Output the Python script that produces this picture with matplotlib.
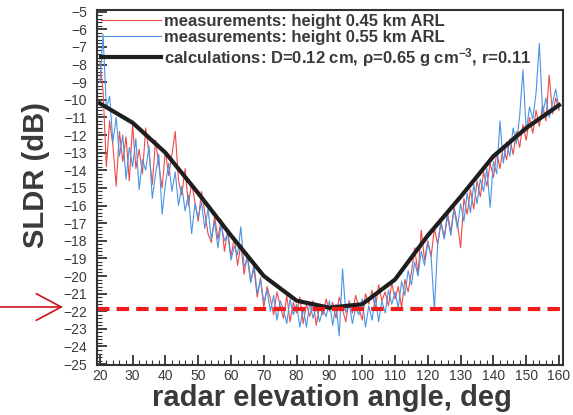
import matplotlib
matplotlib.use("Agg")
import matplotlib.pyplot as plt
from matplotlib.ticker import MultipleLocator

# elevation angles of the measurements, 1 deg step
angles = list(range(20, 161))

# SLDR measured at 0.45 km ARL (dB)
sldr_045 = [
    -7.8, -9.5, -13.8, -11.2, -12.6, -14.9, -11.8, -13.5, -12.1, -14.6,
    -11.4, -13.9, -12.8, -14.2, -11.6, -13.0, -14.8, -12.3, -13.7, -15.0,
    -12.9, -14.3, -13.1, -11.8, -14.6, -15.4, -13.9, -16.0, -14.7, -15.8,
    -16.9, -15.2, -16.4, -17.6, -18.1, -16.6, -17.9, -16.8, -18.6, -17.4,
    -18.9, -17.8, -19.4, -18.2, -19.9, -18.7, -20.3, -19.6, -21.2, -20.1,
    -21.8, -20.6, -21.3, -22.2, -20.9, -21.7, -22.4, -21.1, -22.6, -21.5,
    -22.1, -21.2, -22.7, -21.6, -22.3, -21.4, -22.8, -21.7, -22.2, -21.3,
    -22.0, -21.5, -22.4, -21.2, -21.9, -22.6, -21.4, -22.1, -21.1, -21.8,
    -22.5, -21.0, -21.6, -20.8, -21.9, -20.5, -21.4, -20.9, -21.7, -20.4,
    -21.3, -20.6, -21.8, -20.2, -20.9, -19.8, -18.4, -19.9, -17.4, -19.1,
    -18.0, -18.9, -17.3, -18.2, -16.9, -17.8, -16.4, -17.5, -16.1, -17.0,
    -18.4, -15.6, -16.5, -15.1, -16.2, -14.6, -15.5, -14.1, -14.9, -13.6,
    -14.4, -13.0, -13.9, -12.6, -13.4, -12.2, -13.1, -11.8, -12.7, -11.4,
    -12.3, -11.0, -11.9, -10.6, -11.5, -10.3, -11.2, -8.6, -10.8, -9.9,
    -10.6,
]

# SLDR measured at 0.55 km ARL (dB)
sldr_055 = [
    -9.0, -6.3, -10.5, -9.8, -12.4, -11.0, -13.2, -12.0, -14.5, -12.7,
    -13.8, -12.2, -15.1, -13.4, -14.0, -12.6, -15.6, -14.2, -13.1, -16.5,
    -14.8, -13.6, -15.2, -14.1, -16.0, -14.9, -16.3, -15.4, -17.6, -15.9,
    -16.7, -15.8, -17.3, -16.2, -17.9, -16.9, -18.4, -17.1, -18.0, -17.6,
    -19.1, -18.3, -18.8, -17.2, -19.5, -19.0, -20.4, -19.3, -21.0, -20.2,
    -21.5, -20.8, -22.0, -21.1, -22.5, -21.4, -21.9, -22.7, -21.3, -22.2,
    -21.6, -22.9, -21.8, -22.9, -21.5, -22.4, -21.7, -22.6, -21.9, -22.3,
    -21.4, -22.8, -21.6, -23.4, -19.6, -22.1, -21.5, -22.7, -21.8, -22.2,
    -21.3, -22.9, -21.7, -22.5, -21.2, -22.6, -21.4, -22.1, -20.8, -21.6,
    -20.9, -21.8, -20.3, -21.1, -19.7, -20.5, -19.2, -20.0, -18.6, -19.4,
    -18.1, -18.9, -21.9, -18.2, -17.0, -17.9, -16.6, -17.7, -16.2, -17.3,
    -15.9, -16.9, -15.3, -16.4, -14.8, -15.9, -14.5, -15.2, -13.9, -16.1,
    -13.5, -14.2, -11.2, -13.6, -12.4, -13.2, -11.6, -12.5, -10.9, -8.3,
    -11.8, -10.4, -11.1, -9.6, -6.8, -10.8, -9.9, -11.0, -10.2, -9.4,
    -10.5,
]

# model calculation
calc_angles = [20, 30, 40, 50, 60, 70, 80, 90, 100, 110, 120, 130, 140, 150, 160]
calc_sldr = [-10.2, -11.3, -13.0, -15.3, -17.7, -20.0, -21.4, -21.8, -21.6,
             -20.2, -17.7, -15.5, -13.2, -11.6, -10.3]

threshold = -21.85

text_col = "#3a3a3a"
plt.rcParams["font.family"] = ["Liberation Sans", "DejaVu Sans"]
plt.rcParams["mathtext.fontset"] = "custom"
plt.rcParams["mathtext.rm"] = "Liberation Sans"
plt.rcParams["mathtext.bf"] = "Liberation Sans:bold"
plt.rcParams["mathtext.default"] = "bf"

fig = plt.figure(figsize=(5.73, 4.15), dpi=100)
ax = fig.add_axes([0.169, 0.1205, 0.8135, 0.8555])

ax.plot(angles, sldr_045, color="#ec4a44", lw=0.8,
        label="measurements: height 0.45 km ARL")
ax.plot(angles, sldr_055, color="#4a94e4", lw=0.8,
        label="measurements: height 0.55 km ARL")
ax.plot(calc_angles, calc_sldr, color="#1e1e1e", lw=3,
        label="calculations: D=0.12 cm, \u03c1=0.65 g cm$^{-3}$, r=0.11")
ax.axhline(threshold, color="#ee1c1c", lw=3, dashes=(3.0, 1.7))

ax.set_xlim(19.1, 161.2)
ax.set_ylim(-25.05, -4.9)
ax.xaxis.set_major_locator(MultipleLocator(10))
ax.xaxis.set_minor_locator(MultipleLocator(2))
ax.yaxis.set_major_locator(MultipleLocator(1))
ax.yaxis.set_minor_locator(MultipleLocator(0.2))
ax.tick_params(which="both", direction="in", colors="#333333",
               labelcolor=text_col, labelsize=10, top=False, right=False)
ax.tick_params(which="major", length=7, width=1.3)
ax.tick_params(which="minor", length=3.5, width=0.8)
ax.tick_params(axis="y", pad=7)
ax.tick_params(axis="x", pad=3)
for s in ax.spines.values():
    s.set_color("#333333")
    s.set_linewidth(1.5)

ax.set_xlabel("radar elevation angle, deg", fontsize=21, fontweight="bold",
              color=text_col)
ax.set_ylabel("SLDR (dB)", fontsize=21, fontweight="bold", color=text_col)
ax.xaxis.set_label_coords(0.505, -0.054)
ax.yaxis.set_label_coords(-0.1, 0.535)

leg = ax.legend(loc="upper left", frameon=False, fontsize=12,
                handlelength=3.6, handletextpad=0.15, labelspacing=0.05,
                borderaxespad=0.15, borderpad=0.1)
for t in leg.get_texts():
    t.set_fontweight("bold")
    t.set_color(text_col)

# arrow pointing at the threshold level
ax.annotate("", xy=(63, 108), xytext=(0, 108), xycoords="figure pixels",
            textcoords="figure pixels", annotation_clip=False,
            arrowprops=dict(arrowstyle="->,head_length=1.5,head_width=0.8",
                            color="#c8141e", lw=1.2, mutation_scale=12,
                            shrinkA=0, shrinkB=0))

fig.savefig("out.png", dpi=100)
